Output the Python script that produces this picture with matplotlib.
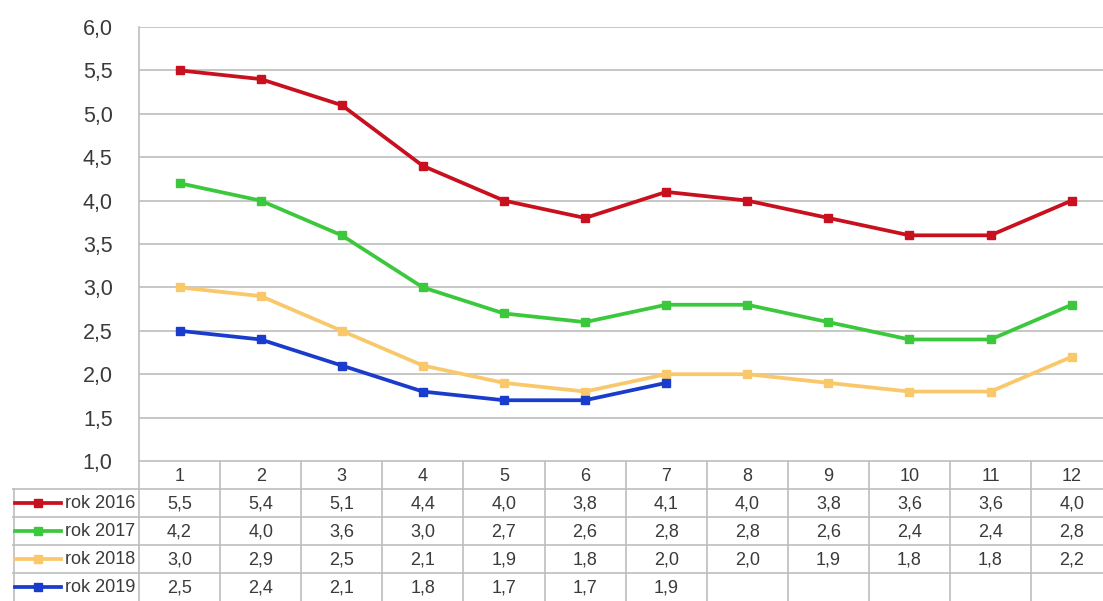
import matplotlib.pyplot as plt
from matplotlib.lines import Line2D

months = [1, 2, 3, 4, 5, 6, 7, 8, 9, 10, 11, 12]
rok_2016 = [5.5, 5.4, 5.1, 4.4, 4.0, 3.8, 4.1, 4.0, 3.8, 3.6, 3.6, 4.0]
rok_2017 = [4.2, 4.0, 3.6, 3.0, 2.7, 2.6, 2.8, 2.8, 2.6, 2.4, 2.4, 2.8]
rok_2018 = [3.0, 2.9, 2.5, 2.1, 1.9, 1.8, 2.0, 2.0, 1.9, 1.8, 1.8, 2.2]
rok_2019 = [2.5, 2.4, 2.1, 1.8, 1.7, 1.7, 1.9]
labels = ["rok 2016", "rok 2017", "rok 2018", "rok 2019"]
y_ticks = [1.0, 1.5, 2.0, 2.5, 3.0, 3.5, 4.0, 4.5, 5.0, 5.5, 6.0]

series = [rok_2016, rok_2017, rok_2018, rok_2019]
colors = ["#C8101E", "#3CC83C", "#F9C86A", "#1A3CCC"]
grid_c = "#BDBDBD"
text_c = "#3A3A3A"

plt.rcParams["font.family"] = ["Liberation Sans", "DejaVu Sans"]

fig = plt.figure(figsize=(11.03, 6.01), dpi=100)
W, H = 1103, 601

# chart area (pixel geometry)
col_w = 81.1
left_px, top_px, bot_px = 139, 27, 461
ax = fig.add_axes([left_px / W, 1 - bot_px / H, 12 * col_w / W, (bot_px - top_px) / H])

for vals, c in zip(series, colors):
    xs = [m - 0.5 for m in months[:len(vals)]]
    ax.plot(xs, vals, color=c, lw=2.7, marker="s", ms=6, zorder=3)

ax.set_xlim(0, 12)
ax.set_ylim(1.0, 6.0)
ax.set_yticks(y_ticks)
ax.set_yticklabels([f"{v:.1f}".replace(".", ",") for v in y_ticks], fontsize=15.5, color=text_c)
ax.set_xticks([])
ax.tick_params(axis="y", length=0, pad=19)
ax.grid(axis="y", color=grid_c, lw=1.2)
for s in ["top", "right", "bottom"]:
    ax.spines[s].set_visible(False)
ax.spines["left"].set_color(grid_c)
ax.spines["left"].set_linewidth(1.2)

# data table under the chart
tab_left = 12
x0 = (tab_left - left_px) / col_w
tab = fig.add_axes([tab_left / W, 0, (left_px + 12 * col_w - tab_left) / W, (H - bot_px) / H])
tab.set_xlim(x0, 12)
tab.set_ylim(5, 0)
tab.axis("off")

tab.plot([0, 12], [0, 0], color=grid_c, lw=1.2)
for r in range(1, 5):
    tab.plot([x0, 12], [r, r], color=grid_c, lw=1.2)
for cx in range(0, 13):
    tab.plot([cx, cx], [0, 5], color=grid_c, lw=1.2)
tab.plot([x0 + 0.02, x0 + 0.02], [1, 5], color=grid_c, lw=1.2)

fs = 13
for m in months:
    tab.text(m - 0.5, 0.55, str(m), ha="center", va="center", fontsize=fs, color=text_c)

for i, (vals, c, lab) in enumerate(zip(series, colors, labels)):
    yr = i + 1.5
    tab.add_line(Line2D([x0 + 0.04, x0 + 0.6], [yr, yr], color=c, lw=2.7))
    tab.plot([x0 + 0.32], [yr], marker="s", ms=5.5, color=c)
    tab.text(-0.05, yr + 0.03, lab, ha="right", va="center", fontsize=fs, color=text_c)
    for m, v in zip(months, vals):
        tab.text(m - 0.5, yr + 0.03, f"{v:.1f}".replace(".", ","), ha="center", va="center",
                 fontsize=fs, color=text_c)

plt.savefig("out.png", dpi=100)
